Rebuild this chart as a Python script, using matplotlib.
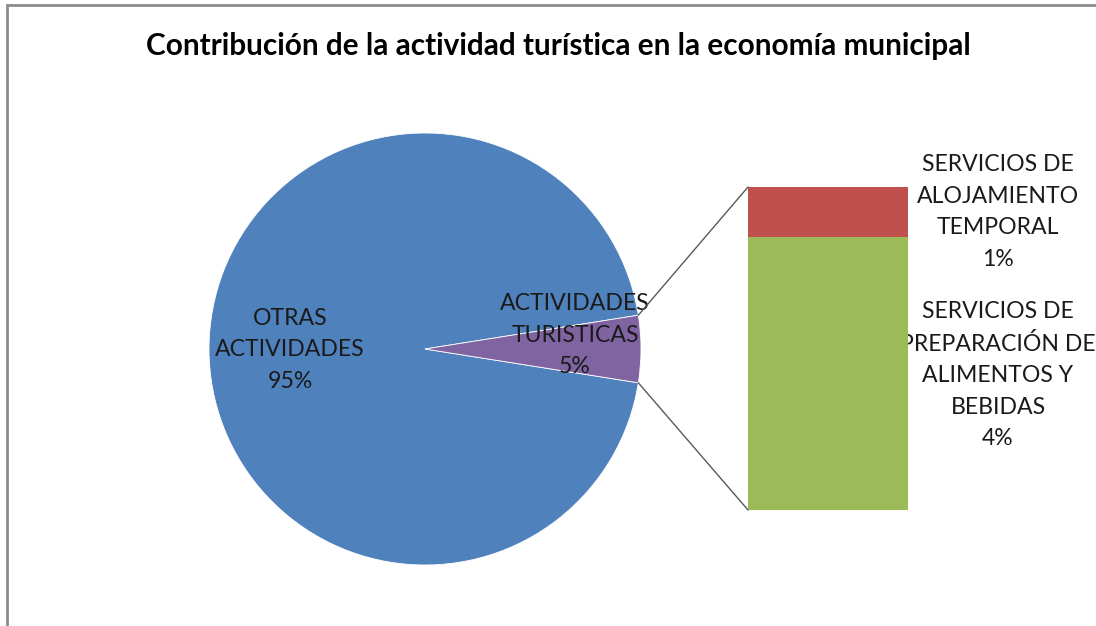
import matplotlib
matplotlib.use("Agg")
import matplotlib.pyplot as plt
from matplotlib.patches import Rectangle, ConnectionPatch
import numpy as np

# ---- data ----
title = "Contribución de la actividad turística en la economía municipal"
pie_labels = ["OTRAS\nACTIVIDADES", "ACTIVIDADES\nTURISTICAS"]
pie_values = [95.0, 5.0]
pie_colors = ["#4F81BD", "#8064A2"]

bar_labels = ["SERVICIOS DE\nPREPARACIÓN DE\nALIMENTOS Y\nBEBIDAS",
              "SERVICIOS DE\nALOJAMIENTO\nTEMPORAL"]
bar_values = [4.22, 0.78]
bar_colors = ["#9BBB59", "#C0504D"]

FONT = ["Lato", "DejaVu Sans"]
W, H = 1096, 626
fig = plt.figure(figsize=(W / 100, H / 100), dpi=100)
ax = fig.add_axes([0, 0, 1, 1])
ax.axis("off")

# frame (only left/top visible, clipped by figure)
ax.add_patch(Rectangle((7, -20), W + 40, H - 5 + 20, fill=False,
                       edgecolor="#8c8c8c", linewidth=2, clip_on=False))

# title
ax.text(558, H - 46, title, ha="center", va="center", fontsize=21.4,
        fontweight="bold", family=FONT, color="#000000")

# pie
cx, cy, r = 425, H - 349, 216
half = pie_values[1] / sum(pie_values) * 360 / 2
wedges, _ = ax.pie(pie_values, colors=pie_colors, center=(cx, cy), radius=r,
                   startangle=half, counterclock=True,
                   wedgeprops=dict(edgecolor="white", linewidth=0.6))
ax.set_xlim(0, W)
ax.set_ylim(0, H)
ax.set_aspect("equal")

lab_kw = dict(ha="center", va="center", fontsize=16.6, family=FONT,
              color="#1a1a1a", linespacing=1.62)
tot = sum(pie_values)
ax.text(290, H - 350, f"{pie_labels[0]}\n{pie_values[0]/tot*100:.0f}%", **lab_kw)
ax.text(575, H - 335, f"{pie_labels[1]}\n{pie_values[1]/tot*100:.0f}%", **lab_kw)

# bar of pie
bx0, bx1, by_top, by_bot = 748, 908, 187, 510
bax = fig.add_axes([bx0 / W, (H - by_bot) / H, (bx1 - bx0) / W, (by_bot - by_top) / H])
bottom = 0
for v, c in zip(bar_values, bar_colors):
    bax.bar(0, v, bottom=bottom, width=1.0, color=c, edgecolor="none")
    bottom += v
bax.set_xlim(-0.5, 0.5)
bax.set_ylim(0, sum(bar_values))
bax.axis("off")

# connector lines
a = np.deg2rad(half)
for sgn, yb in [(1, 1), (-1, 0)]:
    p = (cx + r * np.cos(a), cy + sgn * r * np.sin(a))
    con = ConnectionPatch(xyA=p, coordsA=ax.transData, xyB=(0, yb),
                          coordsB=bax.transAxes, color="#595959", linewidth=1)
    fig.add_artist(con)

# bar labels
ax.text(998, H - 212, f"{bar_labels[1]}\n{bar_values[1]/tot*100:.0f}%", **lab_kw)
ax.text(998, H - 375, f"{bar_labels[0]}\n{bar_values[0]/tot*100:.0f}%", **lab_kw)

fig.savefig("out.png", dpi=100)
